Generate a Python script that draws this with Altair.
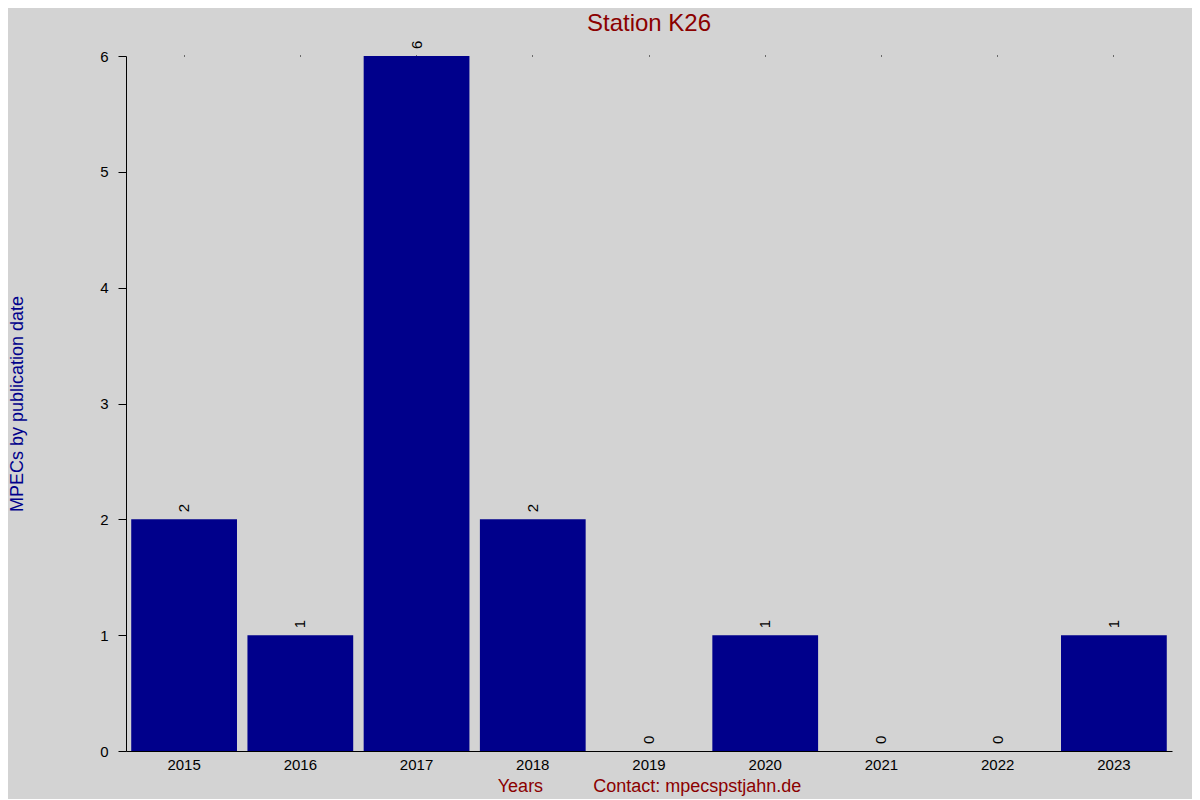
import altair as alt
import pandas as pd

years = ["2015", "2016", "2017", "2018", "2019", "2020", "2021", "2022", "2023"]
counts = [2, 1, 6, 2, 0, 1, 0, 0, 1]

df = pd.DataFrame({"year": years, "count": counts})

FONT = "Liberation Sans"
NB = "\u00a0"
xtitle = "Years" + NB * 10 + "Contact: mpecspstjahn.de"

xscale = alt.Scale(paddingInner=0.09, paddingOuter=0.045)
yscale = alt.Scale(domain=[0, 6], nice=False)

yaxis = alt.Axis(
    title="MPECs by publication date", titleColor="#00008b", titleFontSize=18,
    titleFont=FONT, titleFontWeight="normal", titlePadding=73,
    values=[0, 1, 2, 3, 4, 5, 6], format="d", tickSize=8, grid=False,
    labelPadding=10, labelFontSize=15, labelFont=FONT, labelColor="black",
    tickColor="black", domainColor="black",
)

bars = alt.Chart(df).mark_bar(color="#00008b").encode(
    x=alt.X("year:N", scale=xscale, sort=years,
            axis=alt.Axis(orient="bottom", title=xtitle, titleColor="#8b0000",
                          titleFontSize=18, titleFont=FONT, titleFontWeight="normal",
                          labelAngle=0, labelFontSize=15, labelFont=FONT,
                          labelColor="black", ticks=False, labelPadding=6,
                          domainColor="black", titlePadding=5)),
    y=alt.Y("count:Q", scale=yscale, axis=yaxis),
)

labels = alt.Chart(df).mark_text(
    angle=270, align="left", baseline="middle", dx=7, fontSize=15,
    font=FONT, color="black"
).encode(
    x=alt.X("year:N", scale=xscale, sort=years,
            axis=alt.Axis(orient="top", labels=False, domain=False, ticks=True,
                          tickSize=1, tickColor="black", title=None)),
    y=alt.Y("count:Q", scale=yscale, axis=yaxis),
    text=alt.Text("count:Q"),
)

chart = alt.layer(bars, labels).resolve_axis(x="independent").properties(
    width=1046, height=695,
    title=alt.Title("Station K26", fontSize=24, color="#8b0000", font=FONT,
                    fontWeight="normal", anchor="middle", offset=5),
    background="#d3d3d3",
    autosize="none",
    padding={"left": 118, "top": 48, "right": 20, "bottom": 48},
).configure_view(stroke=None)

chart.save("out.html", embed_options={"renderer": "svg", "actions": False})
